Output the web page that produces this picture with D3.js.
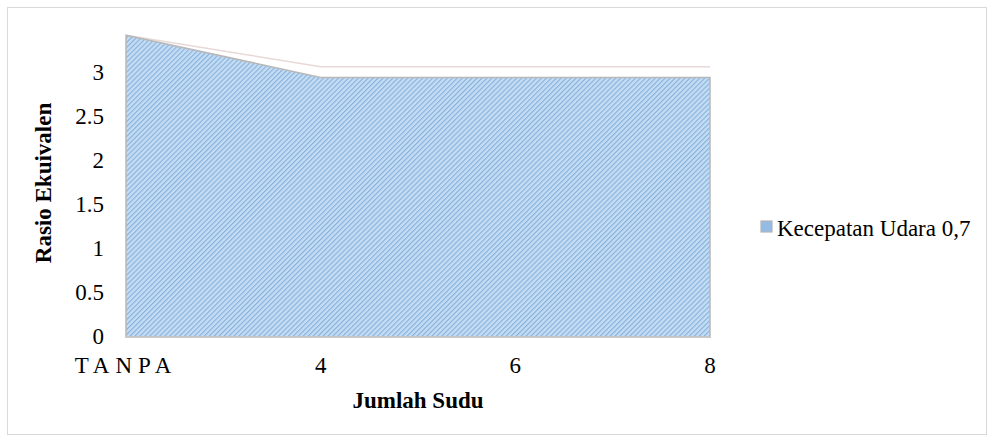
<!DOCTYPE html>
<html><head><meta charset="utf-8">
<script src="https://cdn.jsdelivr.net/npm/d3@7"></script>
<style>
body{margin:0;background:#fff;}
</style></head>
<body><svg id="c" width="995" height="443" style="font-family:'Liberation Serif','Times New Roman',Times,serif"></svg>
<script>
const categories = ["TANPA", "4", "6", "8"];
const seriesName = "Kecepatan Udara 0,7";
const values = [3.43, 2.95, 2.95, 2.95];
const backValues = [3.43, 3.07, 3.07, 3.07];
const yTicks = [0, 0.5, 1, 1.5, 2, 2.5, 3];
const FONT = "Liberation Serif";

const svg = d3.select("#c");
svg.append("rect").attr("x",7.5).attr("y",7.5).attr("width",979).attr("height",427)
  .attr("fill","#fff").attr("stroke","#d9d9d9");

const defs = svg.append("defs");
const pat = defs.append("pattern").attr("id","hatch").attr("patternUnits","userSpaceOnUse")
  .attr("width",3.5).attr("height",3.5).attr("patternTransform","rotate(45)");
pat.append("rect").attr("width",3.5).attr("height",3.5).attr("fill","#c4ddf4");
pat.append("rect").attr("width",1.1).attr("height",3.5).attr("fill","#86b0dc");

const x = d3.scalePoint().domain(categories).range([126, 710]);
const y = d3.scaleLinear().domain([0, 3.5]).range([337, 29]);

// faint back line
svg.append("path").datum(backValues.map((v,i)=>({c:categories[i],v})))
  .attr("fill","none").attr("stroke","#e8d8d8").attr("stroke-width",1.5)
  .attr("d", d3.line().x(d=>x(d.c)).y(d=>y(d.v)));

const data = values.map((v,i)=>({c:categories[i],v}));
svg.append("path").datum(data)
  .attr("fill","url(#hatch)").attr("stroke","#b8b8b8").attr("stroke-width",1.5)
  .attr("d", d3.area().x(d=>x(d.c)).y0(y(0)).y1(d=>y(d.v)));

// x axis line
svg.append("line").attr("x1",126).attr("x2",711).attr("y1",y(0)).attr("y2",y(0))
  .attr("stroke","#c8c8c8").attr("stroke-width",1.5);

// y tick labels
svg.selectAll(".yt").data(yTicks).enter().append("text")
  .attr("font-family",FONT)
  .attr("x",104).attr("y",d=>y(d)+7).attr("text-anchor","end")
  .attr("font-size","23px").text(d=>d);

// x tick labels
svg.selectAll(".xt").data(categories).enter().append("text")
  .attr("font-family",FONT)
  .attr("x",d=>x(d)).attr("y",373).attr("text-anchor","middle")
  .attr("font-size","23px").attr("letter-spacing",d=>d.length>1?"6px":"0px")
  .text(d=>d);

// axis titles
svg.append("text").attr("font-family",FONT).attr("x",418).attr("y",408).attr("text-anchor","middle")
  .attr("font-size","23px").attr("font-weight","bold").text("Jumlah Sudu");
svg.append("text").attr("font-family",FONT).attr("transform","translate(51,183) rotate(-90)").attr("text-anchor","middle")
  .attr("font-size","23px").attr("font-weight","bold").text("Rasio Ekuivalen");

// legend
svg.append("rect").attr("x",761).attr("y",221).attr("width",11).attr("height",11)
  .attr("fill","#93bbe4").attr("stroke","#b5b5b5").attr("stroke-width",1.2);
svg.append("text").attr("font-family",FONT).attr("x",777).attr("y",236).attr("font-size","23px").text(seriesName);
</script></body></html>
